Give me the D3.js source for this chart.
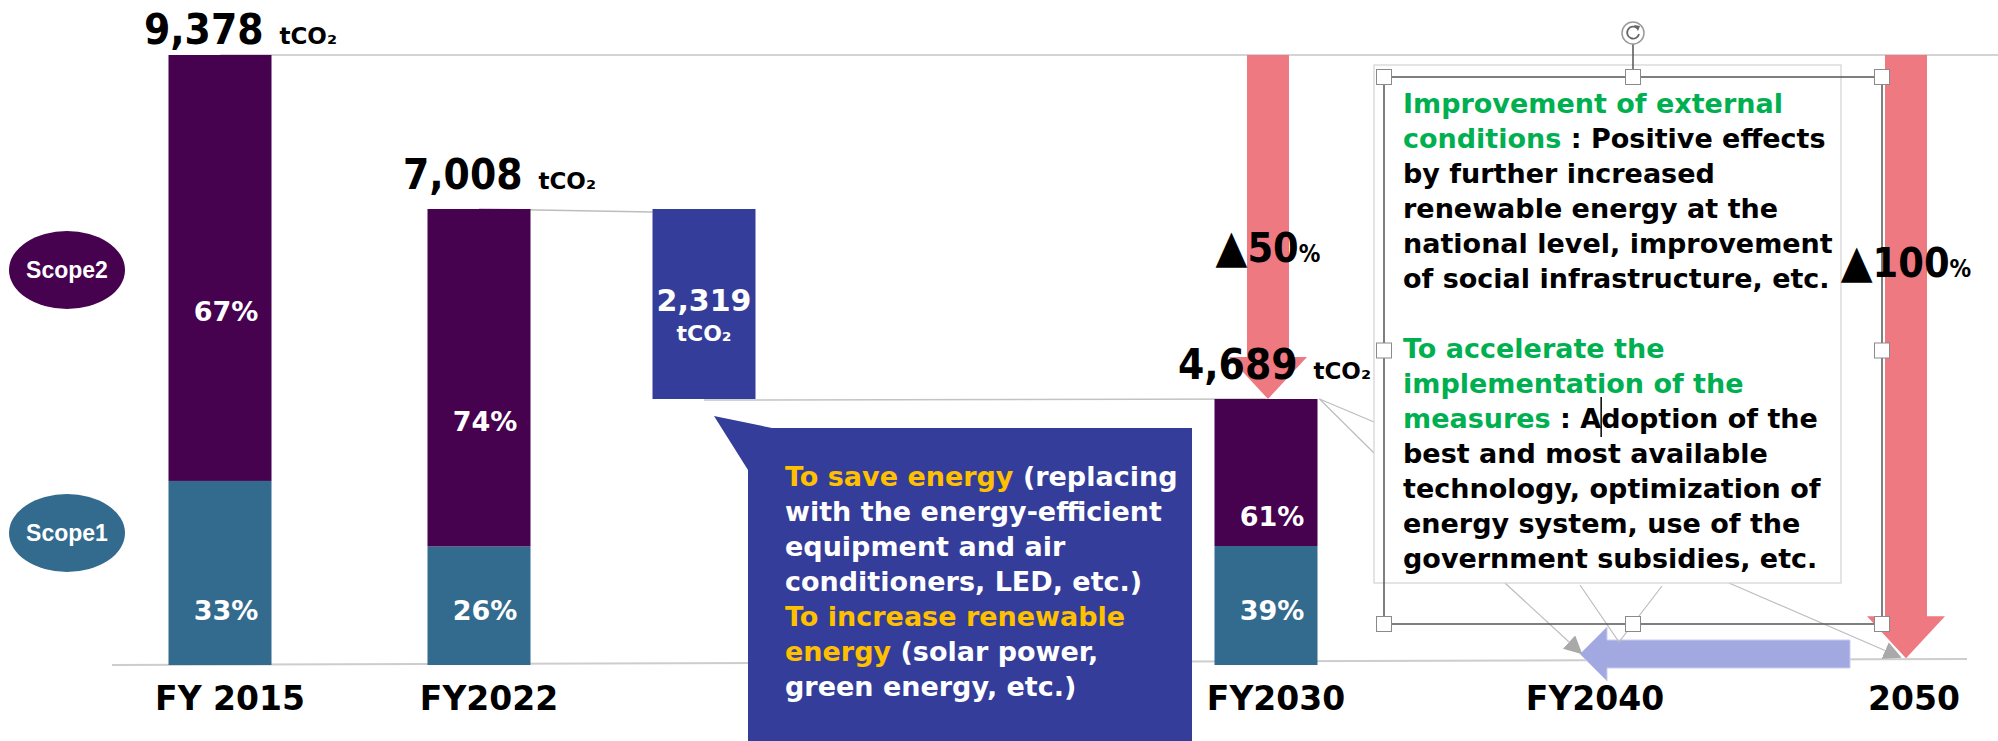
<!DOCTYPE html>
<html>
<head>
<meta charset="utf-8">
<script src="https://cdnjs.cloudflare.com/ajax/libs/d3/7.8.5/d3.min.js"></script>
<style>
  body { margin: 0; background: #fff; }
  svg text { font-family: "DejaVu Sans", sans-serif; font-weight: bold; white-space: pre; }
  svg text.cond { font-family: "DejaVu Sans Condensed", "DejaVu Sans", sans-serif; font-stretch: condensed; }
  svg text.arial { font-family: "Liberation Sans", Arial, sans-serif; }
</style>
</head>
<body>
<div class="chart"></div>
<script>
// data
var years = [2015, 2022, 2030, 2040, 2050];
var yearLabels = ["FY 2015", "FY2022", "FY2030", "FY2040", "2050"];
var barYears = [2015, 2022, 2030];
var totals = [9378, 7008, 4689];
var scope1Pct = [33, 26, 39];
var scope2Pct = [67, 74, 61];
var reduction = 2319;
var targetYears = [2030, 2050];
var targetCuts = [50, 100];
var scopeNames = ["Scope2", "Scope1"];

var saveLines = [
  [["To save energy", 1], [" (replacing", 0]],
  [["with the energy-efficient", 0]],
  [["equipment and air", 0]],
  [["conditioners, LED, etc.)", 0]],
  [["To increase renewable", 1]],
  [["energy", 1], [" (solar power,", 0]],
  [["green energy, etc.)", 0]]
];
var outlookLines = [
  [["Improvement of external", 1]],
  [["conditions", 1], [" : Positive effects", 0]],
  [["by further increased", 0]],
  [["renewable energy at the", 0]],
  [["national level, improvement", 0]],
  [["of social infrastructure, etc.", 0]],
  [],
  [["To accelerate the", 1]],
  [["implementation of the", 1]],
  [["measures", 1], [" : Adoption of the", 0]],
  [["best and most available", 0]],
  [["technology, optimization of", 0]],
  [["energy system, use of the", 0]],
  [["government subsidies, etc.", 0]]
];

var purple = "#46014f", teal = "#336b8f", indigo = "#353d9a";
var red = "#ee7981", lightBlue = "#a2a9e1";

function drawChart() {
  var width = 1998, height = 741;
  var svg = d3.select(".chart").append("svg")
    .attr("width", width)
    .attr("height", height);

  var defs = svg.append("defs");
  defs.append("marker")
    .attr("id", "grayhead")
    .attr("viewBox", "0 0 10 10")
    .attr("refX", 9).attr("refY", 5)
    .attr("markerWidth", 18).attr("markerHeight", 18)
    .attr("markerUnits", "userSpaceOnUse")
    .attr("orient", "auto")
    .append("path").attr("d", "M0,0 L10,5 L0,10 Z").attr("fill", "#a9a9a9");

  // fiscal year -> x (the slide leaves a wide gap for the callout)
  var x = d3.scaleLinear()
    .domain([2015, 2022, 2030, 2050])
    .range([220, 479, 1266, 1904]);
  var bw = 103;
  var redX = x(2022) + 225;

  // display scale of the slide: the 2030 bar is drawn compressed
  var s1of2030 = totals[2] * scope1Pct[2] / 100;
  var y = d3.scaleLinear()
    .domain([0, s1of2030, totals[2], totals[1], totals[0]])
    .range([665, 546, 399, 209, 55]);

  var baseY = d3.scaleLinear().domain([112, 1967]).range([665, 659]);

  // baseline and top reference line
  svg.append("line")
    .attr("x1", 112).attr("y1", baseY(112)).attr("x2", 1967).attr("y2", baseY(1967))
    .attr("stroke", "#cdcdcd").attr("stroke-width", 2);
  svg.append("line")
    .attr("x1", x(2015)).attr("y1", y(totals[0])).attr("x2", width).attr("y2", y(totals[0]))
    .attr("stroke", "#c6c6c6").attr("stroke-width", 1.5);

  // connectors of the waterfall
  svg.append("line")
    .attr("x1", x(2022)).attr("y1", y(totals[1]))
    .attr("x2", redX - bw / 2).attr("y2", y(totals[1]) + 3)
    .attr("stroke", "#bdbdbd").attr("stroke-width", 1.5);
  svg.append("line")
    .attr("x1", redX).attr("y1", y(totals[1] - reduction) + 1)
    .attr("x2", x(2030)).attr("y2", y(totals[2]))
    .attr("stroke", "#c3c3c3").attr("stroke-width", 1.5);

  // stacked bars
  var bars = barYears.map(function(yr, i) {
    return { year: yr, total: totals[i], s1: totals[i] * scope1Pct[i] / 100, p1: scope1Pct[i], p2: scope2Pct[i] };
  });
  var bar = svg.selectAll("g.bar").data(bars).enter().append("g").attr("class", "bar");
  bar.append("rect")
    .attr("x", function(d) { return x(d.year) - bw / 2; })
    .attr("width", bw)
    .attr("y", function(d) { return y(d.s1); })
    .attr("height", function(d) { return y(0) - y(d.s1); })
    .attr("fill", teal);
  bar.append("rect")
    .attr("x", function(d) { return x(d.year) - bw / 2; })
    .attr("width", bw)
    .attr("y", function(d) { return y(d.total); })
    .attr("height", function(d) { return y(d.s1) - y(d.total); })
    .attr("fill", purple);
  bar.append("text")
    .attr("x", function(d) { return x(d.year) + 6; })
    .attr("y", function(d) { return (y(d.total) + y(d.s1)) / 2 + 53; })
    .attr("text-anchor", "middle").attr("fill", "#fff").style("font-size", "27px")
    .text(function(d) { return d.p2 + "%"; });
  bar.append("text")
    .attr("x", function(d) { return x(d.year) + 6; })
    .attr("y", y(0) - 45)
    .attr("text-anchor", "middle").attr("fill", "#fff").style("font-size", "27px")
    .text(function(d) { return d.p1 + "%"; });

  // reduction step
  svg.append("rect")
    .attr("x", redX - bw / 2).attr("width", bw)
    .attr("y", y(totals[1])).attr("height", y(totals[1] - reduction) - y(totals[1]))
    .attr("fill", indigo);
  svg.append("text")
    .attr("x", redX).attr("y", 311).attr("text-anchor", "middle")
    .attr("fill", "#fff").style("font-size", "30px")
    .text(d3.format(",")(reduction));
  svg.append("text")
    .attr("x", redX).attr("y", 341).attr("text-anchor", "middle")
    .attr("fill", "#fff").style("font-size", "22px")
    .text("tCO\u2082");

  // red target arrows
  var cutLabelY = [262, 277];
  targetYears.forEach(function(yr, i) {
    var cx = x(yr) + 2;
    var v = totals[0] * (1 - targetCuts[i] / 100);
    var tip = Math.min(y(v), baseY(cx) - 1);
    var top = y(totals[0]);
    var sw = 21, hw = 39, hl = 42;
    var p = d3.path();
    p.moveTo(cx - sw, top); p.lineTo(cx + sw, top); p.lineTo(cx + sw, tip - hl);
    p.lineTo(cx + hw, tip - hl); p.lineTo(cx, tip); p.lineTo(cx - hw, tip - hl);
    p.lineTo(cx - sw, tip - hl); p.closePath();
    svg.append("path").attr("d", p.toString()).attr("fill", red);
  });

  // FY2040 light blue arrow (pointing left)
  var ax = x(2040), ay = 654;
  var bp = d3.path();
  bp.moveTo(ax - 5, ay); bp.lineTo(ax + 22, ay - 27); bp.lineTo(ax + 22, ay - 14);
  bp.lineTo(1850, ay - 14); bp.lineTo(1850, ay + 14); bp.lineTo(ax + 22, ay + 14);
  bp.lineTo(ax + 22, ay + 27); bp.closePath();
  svg.append("path").attr("d", bp.toString()).attr("fill", lightBlue)
    .attr("stroke", "#c9cdf0").attr("stroke-width", 1);

  // blue callout for the measures
  var cTop = 428, cLeft = redX + 44, cRight = 1192;
  var cp = d3.path();
  cp.moveTo(redX + 10, y(totals[1] - reduction) + 17);
  cp.lineTo(cLeft + 24, cTop); cp.lineTo(cRight, cTop); cp.lineTo(cRight, height + 5);
  cp.lineTo(cLeft, height + 5); cp.lineTo(cLeft, cTop + 42); cp.closePath();
  svg.append("path").attr("d", cp.toString()).attr("fill", indigo);

  saveLines.forEach(function(line, i) {
    var t = svg.append("text").attr("x", 785).attr("y", 486 + i * 35).style("font-size", "27px");
    line.forEach(function(seg) {
      t.append("tspan").text(seg[0]).attr("fill", seg[1] ? "#ffc000" : "#fff");
    });
  });

  // white callout text box with its pointers
  var pointerColor = "#bdbdbd";
  [[1374, 422], [1374, 453]].forEach(function(pt) {
    svg.append("line").attr("x1", x(2030) + bw / 2 + 2).attr("y1", y(totals[2]))
      .attr("x2", pt[0]).attr("y2", pt[1]).attr("stroke", pointerColor).attr("stroke-width", 1.2);
  });
  svg.append("line").attr("x1", 1505).attr("y1", 583).attr("x2", x(2040) - 4).attr("y2", 653)
    .attr("stroke", pointerColor).attr("stroke-width", 1.2).attr("marker-end", "url(#grayhead)");
  svg.append("line").attr("x1", 1729).attr("y1", 583).attr("x2", x(2050) - 4).attr("y2", 657)
    .attr("stroke", pointerColor).attr("stroke-width", 1.2).attr("marker-end", "url(#grayhead)");
  svg.append("path").attr("d", "M1580,585 L1619,642 L1662,586")
    .attr("fill", "none").attr("stroke", pointerColor).attr("stroke-width", 1.2);

  svg.append("rect")
    .attr("x", 1374).attr("y", 65).attr("width", 467).attr("height", 518)
    .attr("fill", "#fff").attr("stroke", "#d2d2d2").attr("stroke-width", 1.2);

  var cursorX = 0;
  outlookLines.forEach(function(line, i) {
    if (!line.length) return;
    var t = svg.append("text").attr("x", 1403).attr("y", 113 + i * 35).style("font-size", "27px");
    line.forEach(function(seg) {
      t.append("tspan").text(seg[0]).attr("fill", seg[1] ? "#00b050" : "#000");
    });
    if (line[0][0] === "measures") cursorX = 1403 + t.node().getSubStringLength(0, 12);
  });
  svg.append("line").attr("x1", cursorX).attr("x2", cursorX).attr("y1", 397).attr("y2", 437)
    .attr("stroke", "#000").attr("stroke-width", 1.5);

  // selection frame of the text box (as in the screenshot)
  var fx0 = 1384, fx1 = 1882, fy0 = 77, fy1 = 624;
  var fmx = (fx0 + fx1) / 2, fmy = (fy0 + fy1) / 2;
  svg.append("rect").attr("x", fx0).attr("y", fy0).attr("width", fx1 - fx0).attr("height", fy1 - fy0)
    .attr("fill", "none").attr("stroke", "#555").attr("stroke-width", 1.5);
  svg.append("line").attr("x1", fmx).attr("x2", fmx).attr("y1", 44).attr("y2", fy0)
    .attr("stroke", "#555").attr("stroke-width", 1.5);
  svg.append("circle").attr("cx", fmx).attr("cy", 33).attr("r", 11)
    .attr("fill", "#fff").attr("stroke", "#9a9a9a").attr("stroke-width", 1.5);
  svg.append("path")
    .attr("d", "M" + (fmx + 4) + ",28 A6,6 0 1,0 " + (fmx + 6) + ",34")
    .attr("fill", "none").attr("stroke", "#666").attr("stroke-width", 1.8);
  svg.append("path")
    .attr("d", "M" + (fmx + 1) + ",25 L" + (fmx + 7) + ",26 L" + (fmx + 5) + ",31 Z")
    .attr("fill", "#666");
  var handles = [[fx0, fy0], [fmx, fy0], [fx1, fy0], [fx0, fmy], [fx1, fmy], [fx0, fy1], [fmx, fy1], [fx1, fy1]];
  svg.selectAll("rect.handle").data(handles).enter().append("rect").attr("class", "handle")
    .attr("x", function(d) { return d[0] - 7.5; }).attr("y", function(d) { return d[1] - 7.5; })
    .attr("width", 15).attr("height", 15)
    .attr("fill", "#fff").attr("stroke", "#8a8a8a").attr("stroke-width", 1);

  // totals above the bars
  bars.forEach(function(d) {
    var ty = Math.max(y(d.total) - 20, 44);
    var shift = d.year === 2030 ? -12 : 0;
    svg.append("text").attr("class", "cond")
      .attr("x", x(d.year) + bw / 2 - 8 + shift).attr("y", ty).attr("text-anchor", "end")
      .attr("fill", "#000").style("font-size", "42px")
      .text(d3.format(",")(d.total));
    svg.append("text")
      .attr("x", x(d.year) + bw / 2 + 8 + shift).attr("y", ty).attr("fill", "#000").style("font-size", "23px")
      .text("tCO\u2082");
  });

  // reduction targets
  targetYears.forEach(function(yr, i) {
    var t = svg.append("text").attr("class", "cond")
      .attr("x", x(yr) + 2).attr("y", cutLabelY[i]).attr("text-anchor", "middle").attr("fill", "#000");
    t.append("tspan").text("\u25B2").style("font-size", "46px");
    t.append("tspan").text(targetCuts[i]).style("font-size", "41px");
    t.append("tspan").text("%").style("font-size", "24px");
  });

  // scope badges
  var badgeY = [270, 533];
  scopeNames.forEach(function(name, i) {
    svg.append("ellipse").attr("cx", 67).attr("cy", badgeY[i]).attr("rx", 58).attr("ry", 39)
      .attr("fill", i === 0 ? purple : teal);
    svg.append("text").attr("class", "arial")
      .attr("x", 67).attr("y", badgeY[i] + 8).attr("text-anchor", "middle")
      .attr("fill", "#fff").style("font-size", "23px").text(name);
  });

  // year labels
  svg.selectAll("text.year").data(years).enter().append("text").attr("class", "year")
    .attr("x", function(d) { return x(d) + 10; })
    .attr("y", 710)
    .attr("text-anchor", "middle").attr("fill", "#000").style("font-size", "33px")
    .text(function(d, i) { return yearLabels[i]; });
}

drawChart();
</script>
</body>
</html>
